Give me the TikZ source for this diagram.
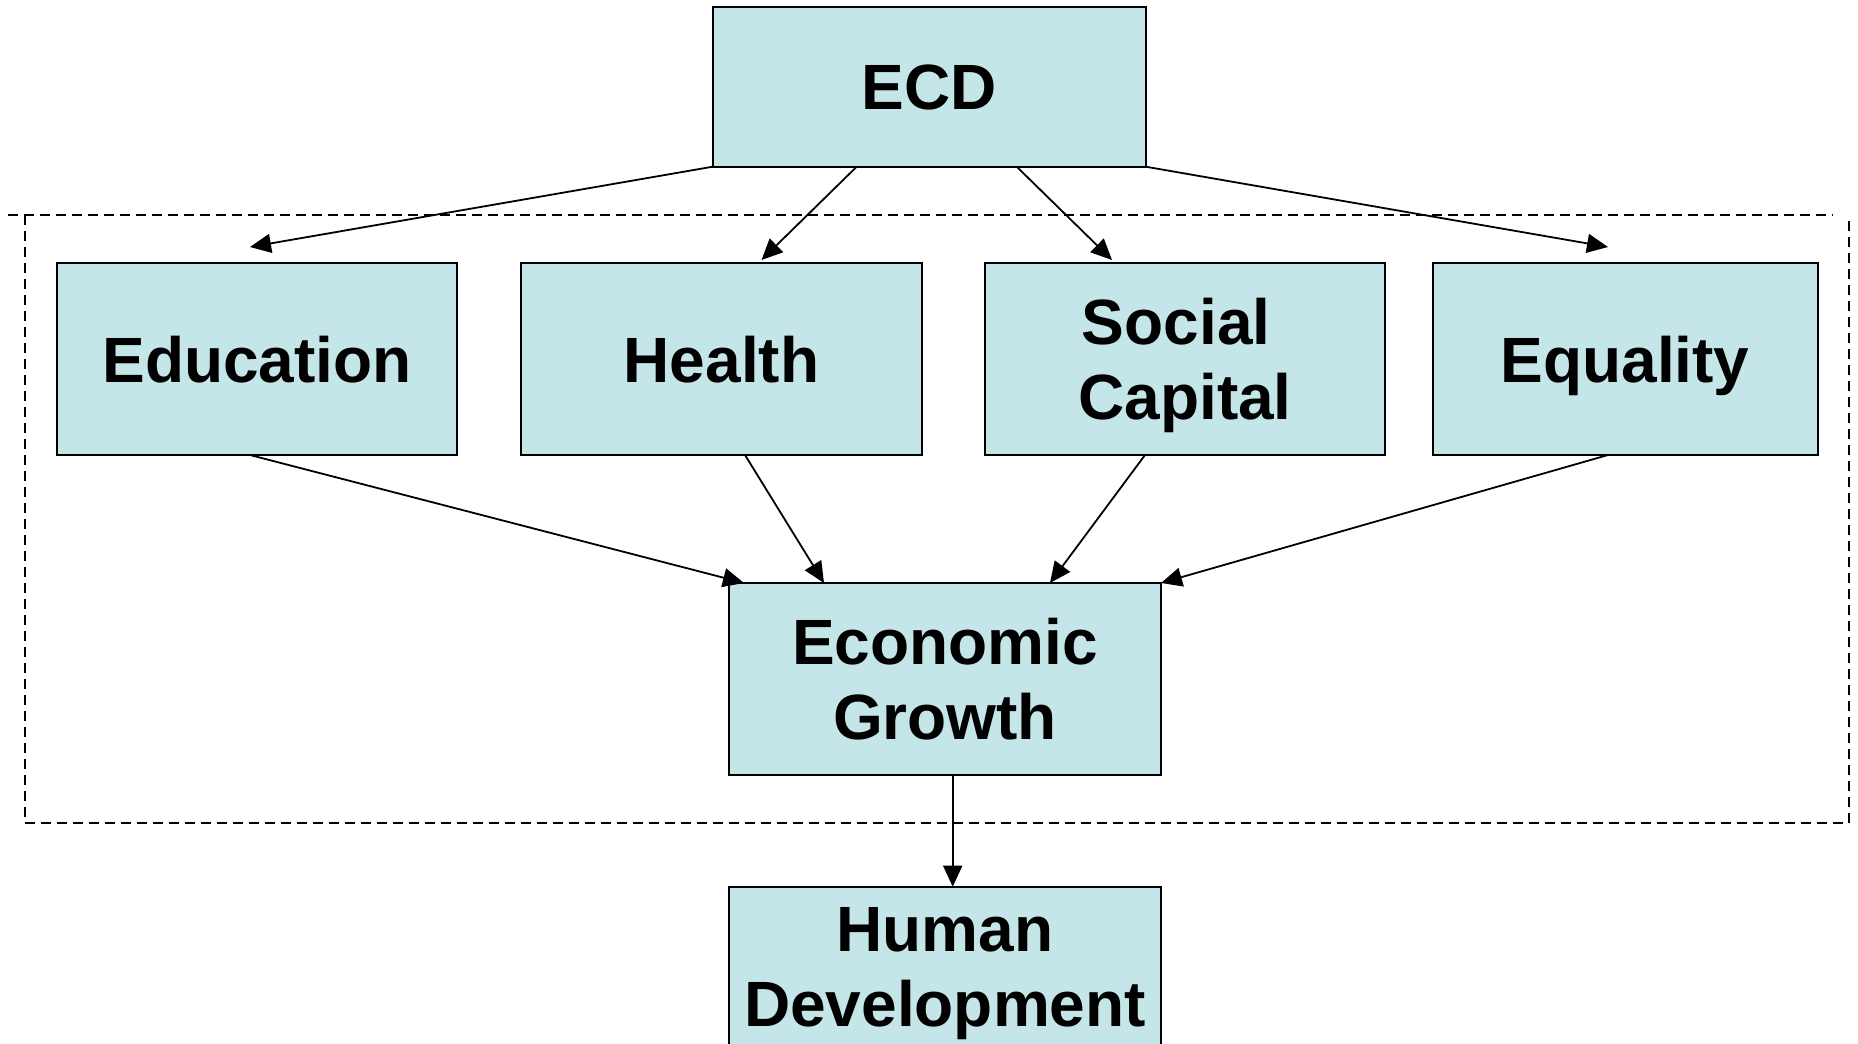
\documentclass[tikz,border=0pt]{standalone}
\usepackage{fontspec}
\setmainfont{Liberation Sans}
\usetikzlibrary{arrows.meta,calc}
\definecolor{boxfill}{RGB}{196,230,232}
\tikzset{
  box/.style={draw=black, fill=boxfill, line width=2pt, inner sep=0pt, outer sep=0pt,
    font=\fontsize{64}{75}\selectfont\bfseries, align=center,
    text height=46pt, text depth=0pt},
  twoline/.style={text height=121pt, text depth=0pt},
  arr/.style={line width=1.8pt, -{Triangle[length=21pt,width=19pt]}},
  frame/.style={line width=2.4pt, dash pattern=on 10pt off 6pt}
}
\begin{document}
\begin{tikzpicture}[x=1pt,y=-1pt]
\useasboundingbox (0,0) rectangle (1858,1044);
% dashed frame
\draw[frame] (8,215) -- (1833,215);
\draw[frame] (25,215) -- (25,823) -- (1849,823) -- (1849,215);
% boxes
\node[box, minimum width=433pt, minimum height=160pt] (ecd) at (929.2,86.7) {ECD};
\node[box, minimum width=400pt, minimum height=192pt] (edu) at (257,359) {Education};
\node[box, minimum width=401pt, minimum height=192pt] (hea) at (721.5,359) {Health};
\node[box, twoline, minimum width=400pt, minimum height=192pt] (soc) at (1185,359) {Social\kern0.278em\\Capital};
\node[box, minimum width=385pt, minimum height=192pt] (equ) at (1625,359) {Equality};
\node[box, twoline, minimum width=432pt, minimum height=192pt] (eg) at (945,679) {Economic\\Growth};
\node[box, twoline, text depth=18pt, minimum width=432pt, minimum height=176pt] (hd) at (945,974.7) {Human\\Development};
% connectors from ECD
\draw[arr] (ecd.south west) -- ($(edu.north)+(-7,-16)$);
\draw[arr] ($(ecd.south)+(-72.5,0)$) -- ($(hea.north)+(40,-3)$);
\draw[arr] ($(ecd.south)+(87.5,0)$) -- ($(soc.north)+(-73,-3)$);
\draw[arr] (ecd.south east) -- ($(equ.north)+(-17,-16)$);
% connectors to Economic Growth
\draw[arr] ($(edu.south)+(-7,0)$) -- ($(eg.north)+(-201,0)$);
\draw[arr] ($(hea.south)+(23.5,0)$) -- ($(eg.north)+(-121,0)$);
\draw[arr] ($(soc.south)+(-40,0)$) -- ($(eg.north)+(105,0)$);
\draw[arr] ($(equ.south)+(-17,0)$) -- (eg.north east);
\draw[arr] ($(eg.south)+(7.7,0)$) -- ($(hd.north)+(7.7,0)$);
\end{tikzpicture}
\end{document}
